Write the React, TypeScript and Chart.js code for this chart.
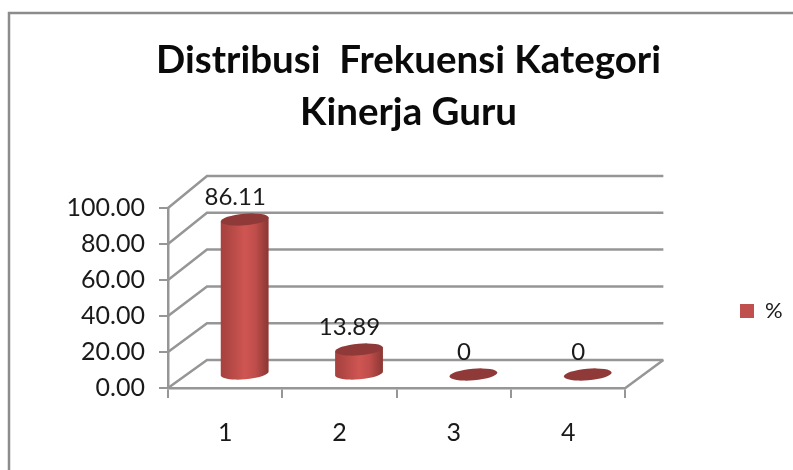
import React, { useEffect, useRef } from "react";
import { Chart, registerables } from "chart.js";

Chart.register(...registerables);

const titleLines = ["Distribusi  Frekuensi Kategori", "Kinerja Guru"];
const categories = ["1", "2", "3", "4"];
const seriesName = "%";
const seriesValues = [86.11, 13.89, 0, 0];
const dataLabels = ["86.11", "13.89", "0", "0"];
const yMin = 0;
const yMax = 100;
const yStep = 20;

const FONT = "Lato, Carlito, 'Open Sans', sans-serif";
const AXIS = "#969696";
const RED = "#c0504d";

const depthPlugin = {
  id: "depth",
  beforeDraw(chart: any) {
    const { ctx, scales } = chart;
    const x = scales.x;
    const y = scales.y;
    ctx.save();
    ctx.strokeStyle = "#8c8c8c";
    ctx.lineWidth = 2.5;
    ctx.beginPath();
    ctx.moveTo(9, 470);
    ctx.lineTo(9, 13);
    ctx.lineTo(793, 13);
    ctx.stroke();

    const left = x.left;
    const right = x.right;
    const bottom = y.getPixelForValue(yMin);
    ctx.strokeStyle = AXIS;
    ctx.lineWidth = 2.5;
    y.ticks.forEach((t: any) => {
      const py = y.getPixelForValue(t.value);
      const dy = 28 + (t.value / yMax) * 4;
      ctx.beginPath();
      ctx.moveTo(left, py);
      ctx.lineTo(left + 39, py - dy);
      ctx.lineTo(right + 38, py - dy);
      ctx.stroke();
    });
    ctx.beginPath();
    ctx.moveTo(right, bottom);
    ctx.lineTo(right + 38, bottom - 28);
    ctx.stroke();
    ctx.restore();
  },
  beforeDatasetDraw() {
    return false;
  },
  afterDatasetsDraw(chart: any) {
    const { ctx } = chart;
    const meta = chart.getDatasetMeta(0);
    const rx = 24;
    const ry = 5.8;
    const rot = -0.085;
    const ex = rx * Math.cos(rot);
    const ey = rx * Math.sin(rot);
    meta.data.forEach((el: any, i: number) => {
      const cx = el.x + 19.5;
      const baseY = el.base - 13.5;
      const topY = el.y - 13.5;
      ctx.save();
      if (topY < baseY - 0.5) {
        const g = ctx.createLinearGradient(cx - rx, 0, cx + rx, 0);
        g.addColorStop(0, "#a8423f");
        g.addColorStop(0.12, "#ad4542");
        g.addColorStop(0.5, "#cf5552");
        g.addColorStop(0.72, "#c04e4b");
        g.addColorStop(1, "#8a3633");
        ctx.fillStyle = g;
        ctx.beginPath();
        ctx.moveTo(cx + ex, topY + ey);
        ctx.lineTo(cx + ex, baseY + ey);
        ctx.ellipse(cx, baseY, rx, ry, rot, 0, Math.PI, false);
        ctx.lineTo(cx - ex, topY - ey);
        ctx.closePath();
        ctx.fill();
      }
      ctx.fillStyle = "#8f3a38";
      ctx.beginPath();
      ctx.ellipse(cx, topY, rx, ry, rot, 0, Math.PI * 2);
      ctx.fill();

      ctx.fillStyle = "#1a1a1a";
      ctx.font = `24px ${FONT}`;
      ctx.textAlign = "center";
      ctx.textBaseline = "middle";
      ctx.fillText(dataLabels[i], cx - 9.5, topY - 22);
      ctx.restore();
    });
  },
  afterLayout(chart: any) {
    const t = chart.titleBlock;
    if (t) {
      t.left += 69.5;
      t.right += 69.5;
    }
    const l = chart.legend;
    if (l) {
      const w = l.width;
      const h = l.height;
      l.left = 740;
      l.right = 740 + w;
      l.top = 311 - h / 2;
      l.bottom = l.top + h;
    }
  },
};

export default function App() {
  const ref = useRef<HTMLCanvasElement>(null);
  useEffect(() => {
    const chart = new Chart(ref.current as HTMLCanvasElement, {
      type: "bar",
      data: {
        labels: categories,
        datasets: [
          {
            label: seriesName,
            data: seriesValues,
            backgroundColor: RED,
            borderWidth: 0,
          },
        ],
      },
      options: {
        responsive: false,
        animation: false,
        devicePixelRatio: 1,
        layout: { padding: { left: 0, right: 115, top: 0, bottom: 0 } },
        plugins: {
          tooltip: { enabled: false },
          title: {
            display: true,
            text: titleLines,
            color: "#0a0a0a",
            font: { family: FONT, size: 38.5, weight: "bold", lineHeight: 52 / 38.5 },
            padding: { top: 35, bottom: 69 },
          },
          legend: {
            display: true,
            position: "right",
            labels: {
              boxWidth: 14,
              boxHeight: 14,
              padding: 0,
              color: "#1a1a1a",
              font: { family: FONT, size: 22 },
            },
          },
        },
        scales: {
          x: {
            grid: {
              drawOnChartArea: false,
              color: AXIS,
              lineWidth: 2,
              tickLength: 10,
              offset: true,
            },
            border: { display: true, color: AXIS, width: 2.5 },
            ticks: {
              color: "#1a1a1a",
              padding: 20,
              maxRotation: 0,
              font: { family: FONT, size: 25 },
            },
            afterFit(s: any) {
              s.height = 470 - 388;
            },
          },
          y: {
            min: yMin,
            max: yMax,
            grid: {
              drawOnChartArea: false,
              color: AXIS,
              lineWidth: 2,
              tickLength: 9,
            },
            border: { display: true, color: AXIS, width: 2.5 },
            ticks: {
              stepSize: yStep,
              color: "#1a1a1a",
              padding: 14,
              font: { family: FONT, size: 25 },
              callback: (v: any) => Number(v).toFixed(2),
            },
            afterFit(s: any) {
              s.width = 168;
            },
          },
        },
      },
      plugins: [depthPlugin],
    } as any);
    return () => chart.destroy();
  }, []);
  return (
    <canvas
      ref={ref}
      width={793}
      height={470}
      style={{
        position: "fixed",
        left: 0,
        top: 0,
        width: 793,
        height: 470,
        filter: "blur(0.5px)",
      }}
    />
  );
}
